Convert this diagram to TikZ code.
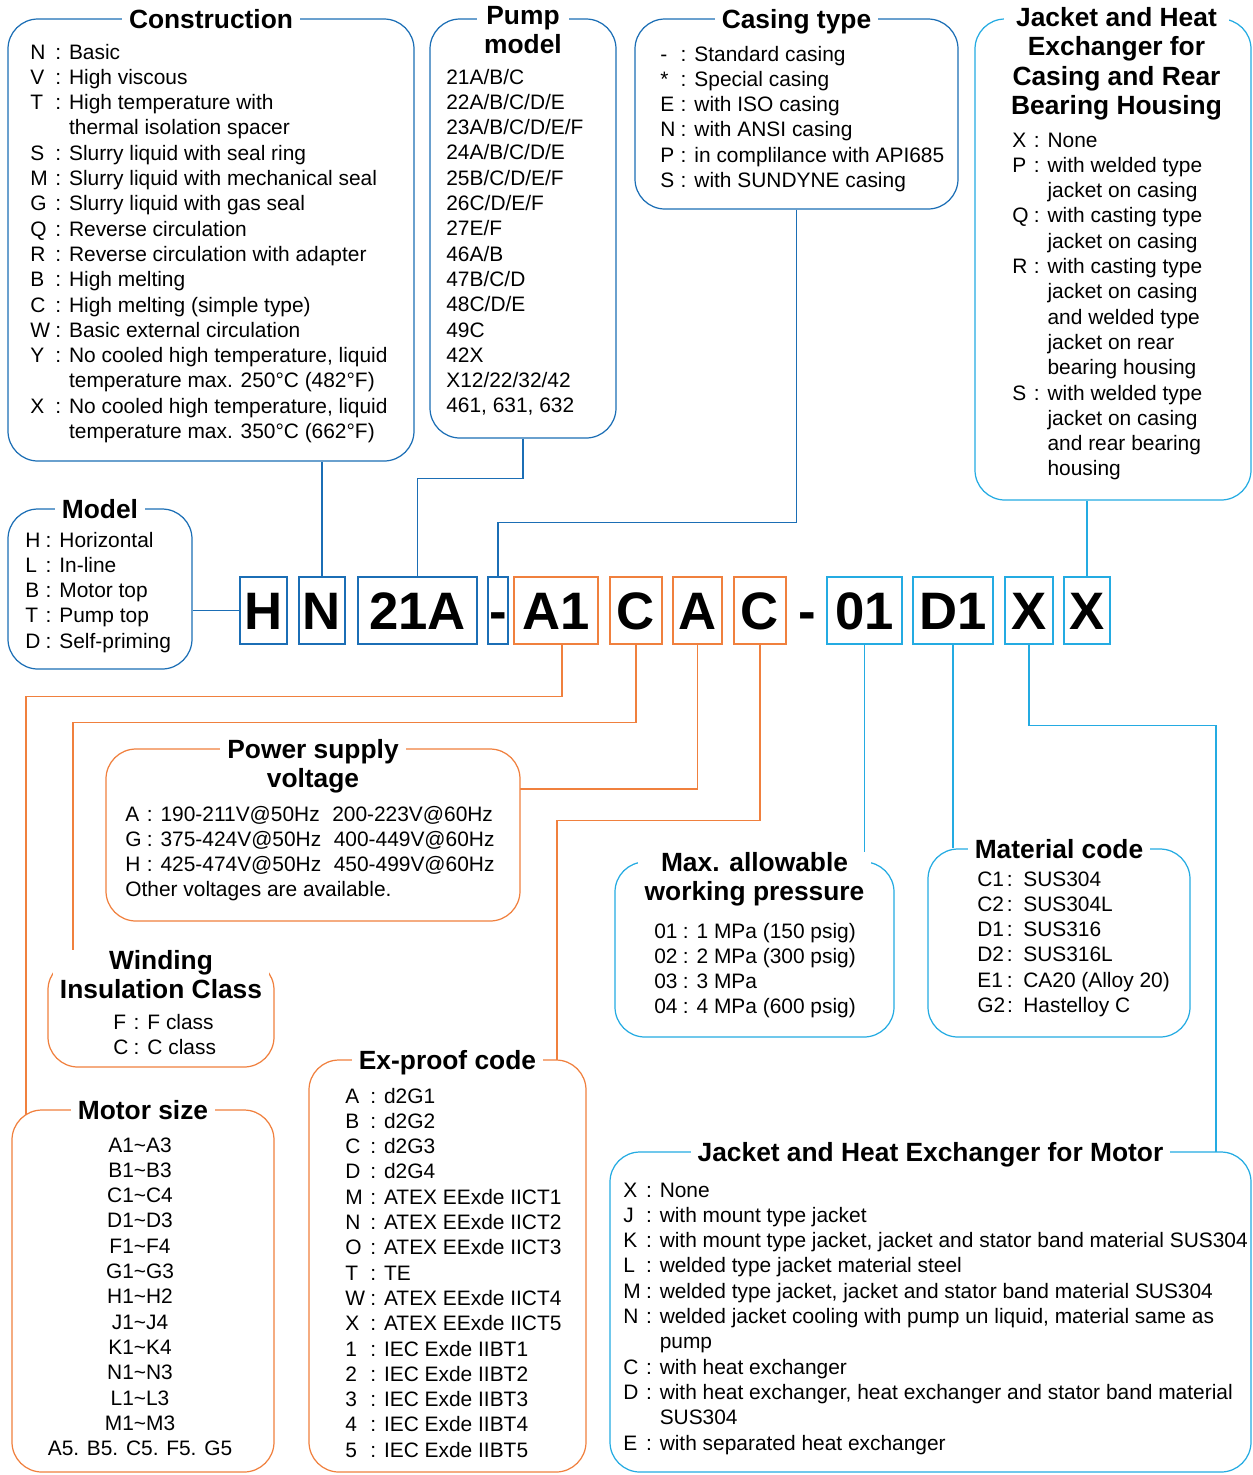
\documentclass[tikz,border=0pt]{standalone}
\usepackage{fontspec}
\setmainfont{Liberation Sans}
\usetikzlibrary{fit}
\pgfdeclarelayer{background}
\pgfsetlayers{background,main}
\definecolor{codeblue}{RGB}{27,110,181}
\definecolor{codeorange}{RGB}{240,128,62}
\definecolor{codecyan}{RGB}{36,171,226}
\newcommand{\keylist}[1]{\begin{tabular}[t]{@{}l@{\hspace{3pt}}l@{\hspace{4.5pt}}l@{}}#1\end{tabular}}
\newcommand{\onelist}[2]{\begin{tabular}[t]{@{}#1@{}}#2\end{tabular}}

\begin{document}
\begin{tikzpicture}[
  x=0.02cm, y=-0.02cm,
  bframe/.style={draw=#1, line width=0.7pt, rounded corners=0.6cm, fill=white, inner sep=0pt},
  ttl/.style={font=\fontsize{15}{16.7}\selectfont\bfseries, fill=white, align=center,
    anchor=north, inner xsep=4pt, inner ysep=0pt},
  txt/.style={font=\fontsize{11.9}{14.4}\selectfont, inner sep=0pt, anchor=base west},
  cbox/.style={draw=#1, line width=0.9pt, minimum height=1.34cm, inner sep=0pt,
    font=\fontsize{30}{36}\selectfont\bfseries, text height=21.5pt, text depth=0pt},
  wire/.style={draw=#1, line width=0.7pt},
]
\useasboundingbox (0,0) rectangle (1253,1475);

% Frames
\node[bframe=codeblue, fit={(8,19) (414,461)}] (constr) {};
\node[bframe=codeblue, fit={(430,19) (616,438)}] (pump) {};
\node[bframe=codeblue, fit={(635,19) (958,209)}] (casing) {};
\node[bframe=codecyan, fit={(975,19) (1251,500)}] (jcase) {};
\node[bframe=codeblue, fit={(8,509) (192,669)}] (model) {};
\node[bframe=codeorange, fit={(106,749) (520,921)}] (power) {};
\node[bframe=codeorange, fit={(48,960) (274,1067)}] (wind) {};
\node[bframe=codeorange, fit={(12,1110) (274,1472)}] (motor) {};
\node[bframe=codeorange, fit={(309,1060) (586,1472)}] (exproof) {};
\node[bframe=codecyan, fit={(615,862) (894,1037)}] (press) {};
\node[bframe=codecyan, fit={(928,849) (1190,1037)}] (mater) {};
\node[bframe=codecyan, fit={(610,1152) (1251,1472)}] (jmot) {};

% Titles
\node[ttl] (constr-t) at ([yshift=5.5pt]constr.north) {Construction};
\node[ttl] (pump-t) at ([yshift=7pt]pump.north) {Pump\\model};
\node[ttl] (casing-t) at ([yshift=5.5pt]casing.north) {Casing type};
\node[ttl] (jcase-t) at ([xshift=2pt,yshift=6.5pt]jcase.north) {Jacket and Heat\\Exchanger for\\Casing and Rear\\Bearing Housing};
\node[ttl] (model-t) at ([yshift=5.5pt]model.north) {Model};
\node[ttl] (power-t) at ([yshift=5.5pt]power.north) {Power supply\\voltage};
\node[ttl] (wind-t) at ([yshift=5.5pt]wind.north) {Winding\\Insulation Class};
\node[ttl] (motor-t) at ([yshift=5.5pt]motor.north) {Motor size};
\node[ttl] (exproof-t) at ([yshift=5.5pt]exproof.north) {Ex-proof code};
\node[ttl] (press-t) at ([yshift=5.5pt]press.north) {Max. allowable\\working pressure};
\node[ttl] (mater-t) at ([yshift=5.5pt]mater.north) {Material code};
\node[ttl] (jmot-t) at ([yshift=5.5pt]jmot.north) {Jacket and Heat Exchanger for Motor};

% Lists
\node[txt] (constr-l) at (30,59) {\keylist{
N & : & Basic\\
V & : & High viscous\\
T & : & High temperature with\\
  &   & thermal isolation spacer\\
S & : & Slurry liquid with seal ring\\
M & : & Slurry liquid with mechanical seal\\
G & : & Slurry liquid with gas seal\\
Q & : & Reverse circulation\\
R & : & Reverse circulation with adapter\\
B & : & High melting\\
C & : & High melting (simple type)\\
W & : & Basic external circulation\\
Y & : & No cooled high temperature, liquid\\
  &   & temperature max. 250°C (482°F)\\
X & : & No cooled high temperature, liquid\\
  &   & temperature max. 350°C (662°F)}};
\node[txt] (pump-l) at (446,84) {\onelist{l}{
21A/B/C\\ 22A/B/C/D/E\\ 23A/B/C/D/E/F\\ 24A/B/C/D/E\\ 25B/C/D/E/F\\ 26C/D/E/F\\ 27E/F\\
46A/B\\ 47B/C/D\\ 48C/D/E\\ 49C\\ 42X\\ X12/22/32/42\\ 461, 631, 632}};
\node[txt] (casing-l) at (660,61) {\keylist{
- & : & Standard casing\\
\relax * & : & Special casing\\
E & : & with ISO casing\\
N & : & with ANSI casing\\
P & : & in complilance with API685\\
S & : & with SUNDYNE casing}};
\node[txt] (jcase-l) at (1012,147) {\keylist{
X & : & None\\
P & : & with welded type\\
  &   & jacket on casing\\
Q & : & with casting type\\
  &   & jacket on casing\\
R & : & with casting type\\
  &   & jacket on casing\\
  &   & and welded type\\
  &   & jacket on rear\\
  &   & bearing housing\\
S & : & with welded type\\
  &   & jacket on casing\\
  &   & and rear bearing\\
  &   & housing}};
\node[txt] (model-l) at (25,547) {\keylist{
H & : & Horizontal\\
L & : & In-line\\
B & : & Motor top\\
T & : & Pump top\\
D & : & Self-priming}};
\node[txt] (power-l) at (125,821) {\keylist{
A & : & 190-211V@50Hz\hspace{0.6em}200-223V@60Hz\\
G & : & 375-424V@50Hz\hspace{0.6em}400-449V@60Hz\\
H & : & 425-474V@50Hz\hspace{0.6em}450-499V@60Hz\\
\multicolumn{3}{@{}l@{}}{Other voltages are available.}}};
\node[txt] (wind-l) at (113,1029) {\keylist{
F & : & F class\\
C & : & C class}};
\node[txt, anchor=base] (motor-l) at (140,1152) {\onelist{c}{
A1\textasciitilde A3\\ B1\textasciitilde B3\\ C1\textasciitilde C4\\ D1\textasciitilde D3\\
F1\textasciitilde F4\\ G1\textasciitilde G3\\ H1\textasciitilde H2\\ J1\textasciitilde J4\\
K1\textasciitilde K4\\ N1\textasciitilde N3\\ L1\textasciitilde L3\\ M1\textasciitilde M3\\
A5. B5. C5. F5. G5}};
\node[txt] (exproof-l) at (345,1103) {\keylist{
A & : & d2G1\\
B & : & d2G2\\
C & : & d2G3\\
D & : & d2G4\\
M & : & ATEX EExde IICT1\\
N & : & ATEX EExde IICT2\\
O & : & ATEX EExde IICT3\\
T & : & TE\\
W & : & ATEX EExde IICT4\\
X & : & ATEX EExde IICT5\\
1 & : & IEC Exde IIBT1\\
2 & : & IEC Exde IIBT2\\
3 & : & IEC Exde IIBT3\\
4 & : & IEC Exde IIBT4\\
5 & : & IEC Exde IIBT5}};
\node[txt] (press-l) at (654,938) {\keylist{
01 & : & 1 MPa (150 psig)\\
02 & : & 2 MPa (300 psig)\\
03 & : & 3 MPa\\
04 & : & 4 MPa (600 psig)}};
\node[txt] (mater-l) at (977,886) {\begin{tabular}[t]{@{}l@{\hspace{1pt}}l@{\hspace{6pt}}l@{}}
C1 & : & SUS304\\
C2 & : & SUS304L\\
D1 & : & SUS316\\
D2 & : & SUS316L\\
E1 & : & CA20 (Alloy 20)\\
G2 & : & Hastelloy C\end{tabular}};
\node[txt] (jmot-l) at (623,1197) {\keylist{
X & : & None\\
J & : & with mount type jacket\\
K & : & with mount type jacket, jacket and stator band material SUS304\\
L & : & welded type jacket material steel\\
M & : & welded type jacket, jacket and stator band material SUS304\\
N & : & welded jacket cooling with pump un liquid, material same as\\
  &   & pump\\
C & : & with heat exchanger\\
D & : & with heat exchanger, heat exchanger and stator band material\\
  &   & SUS304\\
E & : & with separated heat exchanger}};

% Code row
\node[cbox=codeblue, minimum width=0.94cm] (cH) at (263.5,610.5) {H};
\node[cbox=codeblue, minimum width=0.92cm] (cN) at (322,610.5) {N};
\node[cbox=codeblue, minimum width=2.38cm] (c21A) at (417.5,610.5) {21A};
\node[cbox=codeblue, minimum width=0.40cm] (cDash) at (498,610.5) {-};
\node[cbox=codeorange, minimum width=1.68cm] (cA1) at (556,610.5) {A1};
\node[cbox=codeorange, minimum width=1.04cm] (cC1) at (636,610.5) {C};
\node[cbox=codeorange, minimum width=0.98cm] (cA2) at (697.5,610.5) {A};
\node[cbox=codeorange, minimum width=1.04cm] (cC2) at (760,610.5) {C};
\node[cbox=none, draw=none] (cDash2) at (807,610.5) {-};
\node[cbox=codecyan, minimum width=1.50cm] (c01) at (864.5,610.5) {01};
\node[cbox=codecyan, minimum width=1.60cm] (cD1) at (953,610.5) {D1};
\node[cbox=codecyan, minimum width=0.96cm] (cX1) at (1029,610.5) {X};
\node[cbox=codecyan, minimum width=0.92cm] (cX2) at (1087,610.5) {X};

% Entry points
\coordinate (motor-in) at (26,1130);
\coordinate (wind-in) at (73,975);
\coordinate (power-in) at (512,789);
\coordinate (exproof-in) at (557,1075);
\coordinate (jmot-in) at (1216,1165);

% Connectors
\begin{pgfonlayer}{background}
\draw[wire=codeblue] (cH.west) -- (cH.west -| model.east);
\draw[wire=codeblue] (cN.north) -- (cN.north |- constr.south);
\draw[wire=codeblue] (pump.south) -- ++(0,40) -| (c21A.north);
\draw[wire=codeblue] (casing.south) -- ++(0,313) -| (cDash.north);
\draw[wire=codecyan] (cX2.north) -- (cX2.north |- jcase.south);
\draw[wire=codeorange] ([xshift=3.4pt]cA1.south) -- ++(0,52) -| (motor-in);
\draw[wire=codeorange] (cC1.south) -- ++(0,78) -| (wind-in);
\draw[wire=codeorange] (cA2.south) |- (power-in);
\draw[wire=codeorange] (cC2.south) -- ++(0,176) -| (exproof-in);
\draw[wire=codecyan] (c01.south) -- (c01.south |- press.north);
\draw[wire=codecyan] (cD1.south) -- (cD1.south |- mater.north);
\draw[wire=codecyan] (cX1.south) -- ++(0,81) -| (jmot-in);
\end{pgfonlayer}
\end{tikzpicture}
\end{document}
